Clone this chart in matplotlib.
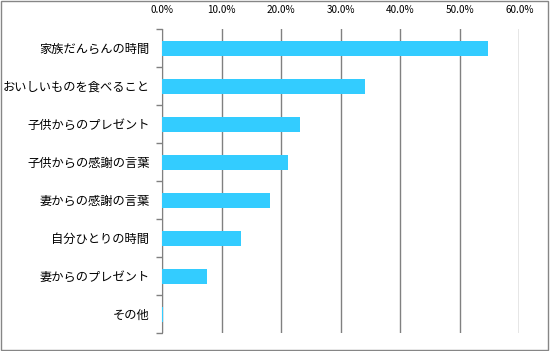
import matplotlib.pyplot as plt
from matplotlib.patches import Rectangle
from matplotlib.ticker import FuncFormatter

plt.rcParams['font.family'] = ['Noto Sans CJK JP', 'DejaVu Sans']

categories = ['家族だんらんの時間', 'おいしいものを食べること', '子供からのプレゼント',
              '子供からの感謝の言葉', '妻からの感謝の言葉', '自分ひとりの時間',
              '妻からのプレゼント', 'その他']
values = [54.7, 34.1, 23.1, 21.2, 18.1, 13.3, 7.5, 0.2]

fig = plt.figure(figsize=(5.5, 3.51), dpi=100)
ax = fig.add_axes([0.2945, 0.051, 0.650, 0.866])

y = list(range(len(categories)))
ax.barh(y, values, height=0.4, color='#33CCFF', zorder=3)
ax.set_ylim(len(categories) - 0.5, -0.5)
ax.set_xlim(0, 60)
ax.set_xticks(range(0, 61, 10))
ax.xaxis.set_major_formatter(FuncFormatter(lambda v, p: f'{v:.1f}%'))
ax.xaxis.tick_top()
ax.tick_params(axis='x', length=0, labelsize=7.2, pad=10)
ax.grid(axis='x', color='#808080', linewidth=1, zorder=0)

ax.set_yticks(y)
ax.set_yticklabels(categories, fontsize=8.8)
ax.set_yticks([i + 0.5 for i in range(-1, len(categories))], minor=True)
ax.tick_params(axis='y', which='major', length=0, pad=9)
ax.tick_params(axis='y', which='minor', length=4, color='#808080', width=1)

for s in ['top', 'right', 'bottom']:
    ax.spines[s].set_visible(False)
ax.spines['left'].set_color('#808080')

fig.patches.append(Rectangle((0.002, 0.003), 0.995, 0.994, transform=fig.transFigure,
                             fill=False, edgecolor='#868686', linewidth=1))

fig.savefig('out.png', dpi=100)
